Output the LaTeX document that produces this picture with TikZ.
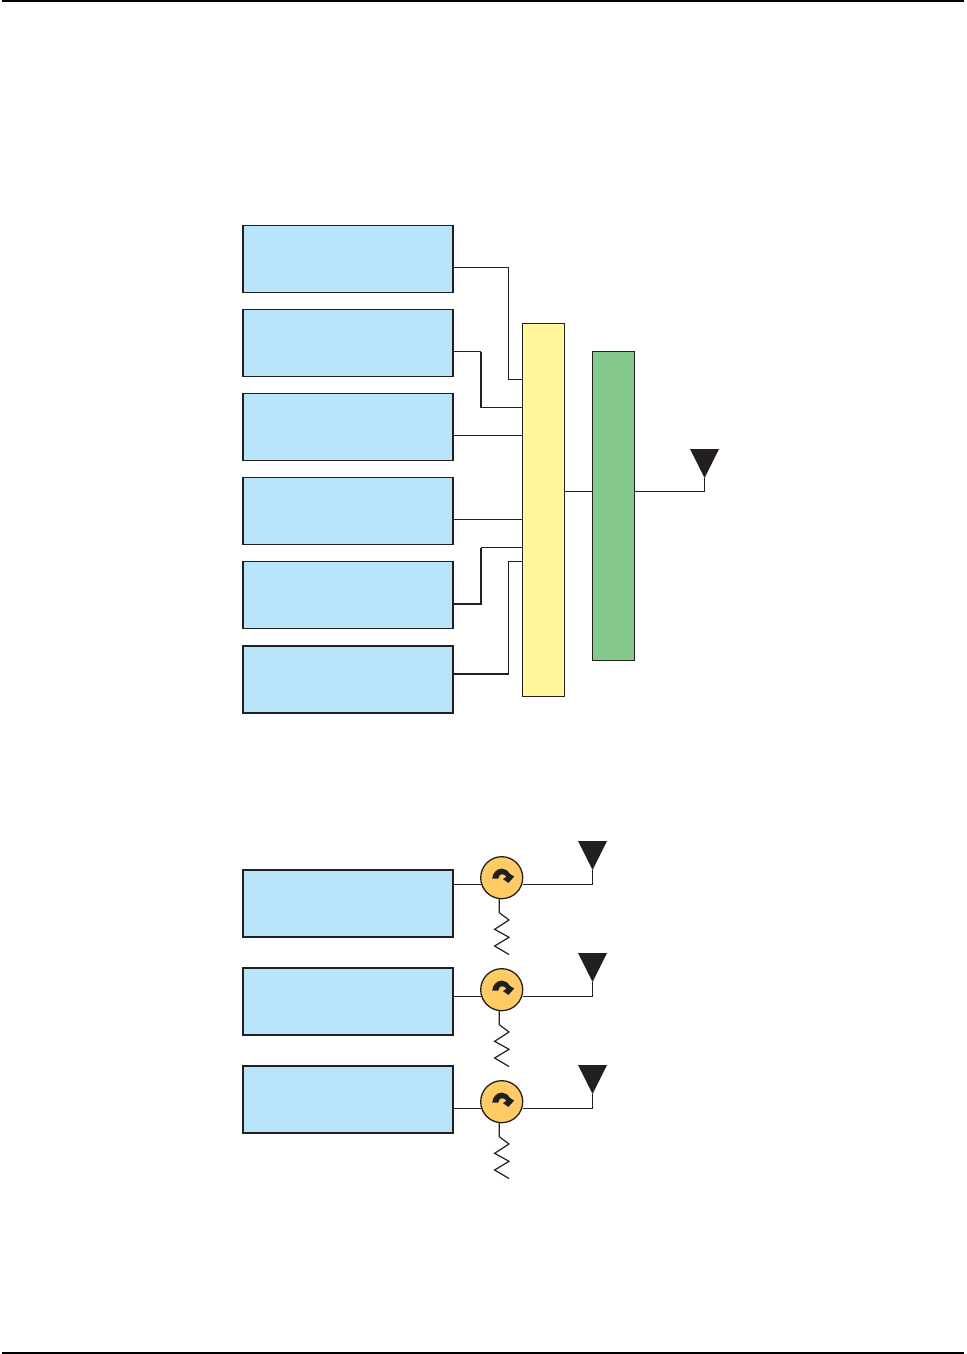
\documentclass[tikz,border=0pt]{standalone}
\definecolor{boxblue}{HTML}{B9E5FB}
\definecolor{muxyellow}{HTML}{FFF799}
\definecolor{combgreen}{HTML}{85CA8B}
\definecolor{circorange}{HTML}{FFCB64}
\definecolor{ink}{HTML}{231F20}
\tikzset{
  block/.style={draw=ink,line width=1.3pt,fill=boxblue,minimum width=210pt,minimum height=67pt,outer sep=0pt,inner sep=0pt},
  heavyblock/.style={block,line width=2.2pt},
  tallbox/.style={draw=ink,line width=1pt,minimum width=42pt,outer sep=0pt,inner sep=0pt},
  wire/.style={draw=ink,line width=1.05pt},
  heavywire/.style={draw=ink,line width=2pt},
  circ/.style={circle,draw=ink,line width=1.3pt,fill=circorange,minimum size=42pt,outer sep=0pt,inner sep=0pt},
  zig/.style={draw=ink,line width=1.2pt,line join=miter},
  aerial/.style={fill=ink,draw=none}
}
\newcommand{\myaerial}[2]{% tip x, tip y
  \fill[aerial] (#1-14.5,#2-29) -- (#1+14.5,#2-29) -- (#1,#2) -- cycle;
}
\begin{document}
\begin{tikzpicture}[x=1pt,y=-1pt]
\useasboundingbox (0,0) rectangle (966,1354);
\fill[white] (0,0) rectangle (966,1354);
\coordinate (tl) at (2,1); \coordinate (tr) at (964,1);
\coordinate (bl) at (2,1353); \coordinate (br) at (964,1353);
\draw[draw=black,line width=2pt] (tl) -- (tr);
\draw[draw=black,line width=2pt] (bl) -- (br);

\node[block] (b1) at (348,259) {};
\node[block] (b2) at (348,343) {};
\node[block] (b3) at (348,427) {};
\node[block] (b4) at (348,511) {};
\node[block] (b5) at (348,595) {};
\node[heavyblock] (b6) at (348,679.5) {};
\node[tallbox,fill=muxyellow,minimum height=372.5pt] (mux) at (543.5,509.75) {};
\node[tallbox,fill=combgreen,minimum height=309pt] (comb) at (613.5,506) {};

% feeders into the yellow block
\coordinate (j1) at (508.5,267.5); \coordinate (k1) at (508.5,379.5);
\coordinate (j2) at (481,351.5); \coordinate (k2) at (481,407.5);
\coordinate (j3) at (508,435.5); \coordinate (j4) at (508,519.5);
\coordinate (j5) at (481,604); \coordinate (k5) at (481,547.5);
\coordinate (j6) at (508.5,674); \coordinate (k6) at (508.5,561.5);
\draw[wire] (b1.east |- j1) -- (j1) -- (k1) -- (mux.west |- k1);
\draw[wire] (b2.east |- j2) -- (j2);
\draw[wire] (k2) -- (mux.west |- k2);
\draw[heavywire] (j2) -- (k2);
\draw[wire] (b3.east |- j3) -- (mux.west |- j3);
\draw[wire] (b4.east |- j4) -- (mux.west |- j4);
\draw[wire] (k5) -- (mux.west |- k5);
\draw[heavywire] (b5.east |- j5) -- (j5) -- (k5);
\draw[wire] (j6) -- (k6) -- (mux.west |- k6);
\draw[heavywire] (b6.east |- j6) -- (j6);

\coordinate (c0) at (579,491.5);
\coordinate (a0) at (704.5,491.5);
\coordinate (t0) at (704.5,478);
\draw[wire] (mux.east |- c0) -- (comb.west |- c0);
\draw[wire] (comb.east |- c0) -- (a0) -- (t0);
\myaerial{704.5}{478}

% lower group
\node[heavyblock] (l1) at (348,903.5) {};
\node[block] (l2) at (348,1001.5) {};
\node[block] (l3) at (348,1099.5) {};
\foreach \i/\dy in {1/0,2/112,3/224}{
  \node[circ] (c\i) at (501.7,877.7+\dy) {};
  \coordinate (w\i) at (592.5,884.5+\dy);
  \coordinate (t\i) at (592.5,870+\dy);
  \coordinate (r\i) at (499.3,912.7+\dy);
  \draw[wire] (l\i.east |- w\i) -- (w\i -| c\i.west);
  \draw[wire] (c\i.east |- w\i) -- (w\i) -- (t\i);
  \myaerial{592.5}{870+\dy}
  \draw[zig] (r\i |- c\i.south) -- (r\i) -- (509,920+\dy) -- (494.6,929.3+\dy) -- (509,937.3+\dy) -- (494.6,946+\dy) -- (509,954.5+\dy);
  \fill[ink] (492.2,878.6+\dy) .. controls (492.8,872+\dy) and (497.5,868.6+\dy) .. (501.7,868.6+\dy)
     .. controls (505,868.6+\dy) and (508,870.5+\dy) .. (509.6,873.6+\dy)
     -- (514.2,876.6+\dy) -- (508.4,882.9+\dy) -- (503,879.2+\dy) -- (506.4,876.6+\dy)
     .. controls (505.5,875+\dy) and (503.5,874.2+\dy) .. (501.7,874.2+\dy)
     .. controls (500,874.2+\dy) and (498.6,876+\dy) .. (498.3,878.6+\dy) -- cycle;
}
\end{tikzpicture}
\end{document}
